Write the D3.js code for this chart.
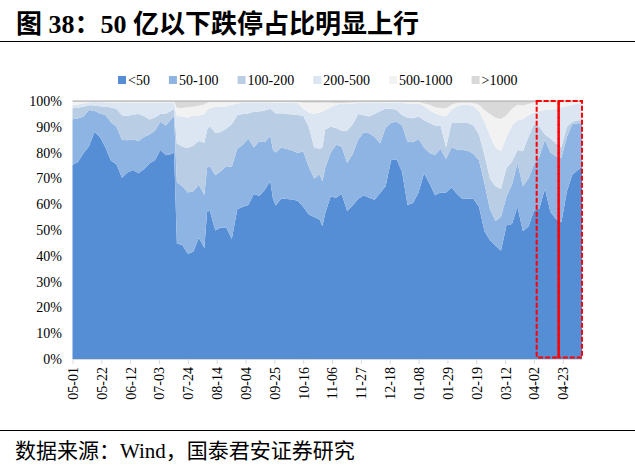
<!DOCTYPE html>
<html><head><meta charset="utf-8">
<script src="https://cdn.jsdelivr.net/npm/d3@7"></script>
<style>
html,body{margin:0;padding:0;background:#fff;}
svg{display:block;}
</style></head>
<body>
<svg id="chart" width="635" height="471"></svg>
<script>
// ---- data (share of limit-down stocks with market cap below each threshold, %) ----
const seriesNames = ["<50", "50-100", "100-200", "200-500", "500-1000", ">1000"];
const seriesColors = ["#558ed5", "#8eb4e3", "#b9cde5", "#dce6f2", "#f2f2f2", "#d9d9d9"];
const tickLabels = ["05-01","05-22","06-12","07-03","07-24","08-14","09-04","09-25","10-16","11-06","11-27","12-18","01-08","01-29","02-19","03-12","04-02","04-23"];
const yTickLabels = ["0%","10%","20%","30%","40%","50%","60%","70%","80%","90%","100%"];
const dates = ["2024-05-01","2024-05-05","2024-05-09","2024-05-13","2024-05-17","2024-05-21","2024-05-25","2024-05-29","2024-06-02","2024-06-06","2024-06-10","2024-06-14","2024-06-18","2024-06-22","2024-06-26","2024-06-30","2024-07-04","2024-07-08","2024-07-12","2024-07-14","2024-07-16","2024-07-20","2024-07-24","2024-07-28","2024-08-01","2024-08-05","2024-08-07","2024-08-09","2024-08-13","2024-08-17","2024-08-21","2024-08-25","2024-08-29","2024-09-02","2024-09-06","2024-09-10","2024-09-14","2024-09-18","2024-09-22","2024-09-24","2024-09-26","2024-09-30","2024-10-04","2024-10-08","2024-10-12","2024-10-16","2024-10-20","2024-10-24","2024-10-28","2024-10-30","2024-11-01","2024-11-05","2024-11-09","2024-11-13","2024-11-17","2024-11-21","2024-11-25","2024-11-29","2024-12-03","2024-12-07","2024-12-11","2024-12-15","2024-12-19","2024-12-23","2024-12-27","2024-12-31","2025-01-04","2025-01-08","2025-01-12","2025-01-16","2025-01-20","2025-01-24","2025-01-28","2025-02-01","2025-02-05","2025-02-09","2025-02-13","2025-02-17","2025-02-21","2025-02-25","2025-03-01","2025-03-05","2025-03-09","2025-03-13","2025-03-17","2025-03-21","2025-03-25","2025-03-29","2025-04-02","2025-04-06","2025-04-10","2025-04-14","2025-04-18","2025-04-22","2025-04-26","2025-04-30","2025-05-04","2025-05-07"];
const below50 = [75.2,76.4,79.7,82.5,88,86,82,76.8,75.5,70.3,72.3,73.3,72,73.5,75.8,77,81,79,79.5,80,44.8,44.2,40.8,41.6,47,43,57,57.5,49.8,51,51,46.5,58,59,59.7,64,63.2,65.5,69,62,59.5,62.2,62,61.8,61.3,59,56,55,54,51.5,56.5,63,62.5,64,57.3,59.5,62,63.5,62.5,61.7,64.3,67,77,77.4,72.5,59.7,60.5,64.5,72,68,63.5,64.5,64.5,66.5,64,62,62.2,62,59,49.5,46,44,42,51.8,52.3,59,49.5,51.4,57.5,58.3,66,57,54.3,53,65,71.5,73.3,74.6];
const below100 = [92.9,93.2,94,96.5,96.2,95.2,94.6,91.8,90,85,84.8,85.2,84.5,86,87,88.5,92,90.5,93,94,68.5,67,64.5,65,67.5,63.6,74,74.8,71.2,72.8,74.7,74.5,81.5,83,85.5,82,84.4,84,86.5,81,80,82,81.4,80.8,79.8,80.5,74.5,70,71.5,68.8,74,80,83,82.3,76,79.5,85,87.8,87.5,86,83.6,89.5,91.6,92,90.5,84.2,84,85.3,82,79.8,79.1,81.5,77.5,82,81.2,81,80.7,79.5,77,68,58,53.5,55,63,67.5,76,67,70,75.5,78.5,85,80,78.6,78,86,91.2,91.4,91.4];
const below200 = [97.2,97.4,97.8,98.4,98.3,98,97.8,97.5,97,94.5,94.2,94.8,95,94.2,92.8,93.6,95,95.2,96.2,97,83.5,82.3,81.8,82.8,84.5,83.8,89,90.2,87.6,88,89.3,91,94.5,95,95.2,95.8,95.9,96.3,97,96,95.2,95.3,95,94.8,94.6,94.3,90,82,81.5,82,89,90,89.5,88.5,88.5,91,95,94.5,94,95,96,97,97,96.5,94.5,93.5,93.3,94,92.5,91.5,90.5,90.5,82,91.5,91.5,91.5,91.5,90.5,87,79,70,67,66,74,76.5,81,80.5,86,91,90,87,85.5,83.5,82,90,92,92.5,92.5];
const below500 = [98.5,98.6,99,99.5,99.6,99.5,99.5,99.4,99.3,99.2,99.2,99.3,99.3,99.3,99.2,99.2,99.4,99.4,99.4,99.3,94.2,94,93.5,94.5,94.3,95,96.5,97.2,97.7,97.8,98,98.5,99,99.4,99.4,99.4,99.4,99.4,99.4,99.3,99.3,99.3,99.3,99.2,99.2,97,95.5,95,95.5,96,96.5,97.5,98.5,99,99,99,99.2,99.2,99.2,99.2,99.2,99.3,99.3,99.3,99.2,99,99,99,98,96.5,95.2,94.5,94,96.5,98,98.5,98.5,98,96,92,86.5,82,80.5,86,90.5,92.5,93,94.5,95.5,96,96.5,96.5,97,97.5,98,98.5,99,99];
const below1000 = [99.7,99.7,99.7,99.7,99.7,99.7,99.7,99.7,99.7,99.7,99.7,99.7,99.7,99.7,99.7,99.7,99.7,99.7,99.7,99.7,97.4,97.3,97.6,97.8,98.2,98.6,99.3,99.6,99.6,99.6,99.6,99.6,99.6,99.6,99.6,99.6,99.6,99.6,99.6,99.6,99.6,99.6,99.6,99.6,99.6,99.3,99.3,99.3,99.3,99.3,99.4,99.3,99.2,99.2,99.3,99.4,99.6,99.6,99.6,99.6,99.6,99.6,99.6,99.6,99.6,99.6,99.6,99.6,99,98.5,97.6,97.3,97.2,98.5,99.2,99.3,99.3,99.2,98.5,96.5,95,93.5,93,94.5,97,98.5,98.3,98.8,99.4,99.5,99.5,99.5,99.5,99.6,99.6,99.6,99.6,99.6];
const highlightDates = ["2025-04-04", "2025-04-20", "2025-05-07"];

// ---- build ----
const parse = d3.timeParse("%Y-%m-%d");
const svg = d3.select("#chart");
const serif = "'Liberation Serif','Times New Roman','Noto Sans CJK SC',serif";

const x = d3.scaleTime().domain([parse("2024-05-01"), parse("2025-05-07")]).range([72.5, 582]);
const y = d3.scaleLinear().domain([0, 100]).range([359, 101]);

const zeros = dates.map(() => 0);
const hundreds = dates.map(() => 100);
const bounds = [zeros, below50, below100, below200, below500, below1000, hundreds];
const rows = dates.map((d, i) => ({date: parse(d), v: bounds.map(b => b[i])}));

const plot = svg.append("g");
seriesNames.forEach((name, k) => {
  const area = d3.area()
    .x(d => x(d.date))
    .y0(d => y(d.v[k]))
    .y1(d => y(d.v[k + 1]));
  plot.append("path").datum(rows).attr("d", area).attr("fill", seriesColors[k]);
});
// top edge
plot.append("line").attr("x1", x.range()[0]).attr("x2", x.range()[1])
  .attr("y1", y(100)).attr("y2", y(100)).attr("stroke", "#a6a6a6").attr("stroke-width", 1);

// x axis
const tickDates = tickLabels.map((t, k) => d3.timeDay.offset(parse("2024-05-01"), 21 * k));
const xAxis = svg.append("g").attr("transform", `translate(0,${y(0)})`)
  .call(d3.axisBottom(x).tickValues(tickDates).tickFormat((d, i) => tickLabels[i]).tickSize(5).tickSizeOuter(0));
xAxis.select(".domain").attr("stroke", "#d9d9d9");
xAxis.selectAll(".tick line").attr("stroke", "#d9d9d9");
xAxis.selectAll(".tick text")
  .attr("font-family", serif).attr("font-size", 14).attr("fill", "#000")
  .attr("transform", "rotate(-90)").attr("x", -8).attr("y", 0).attr("dy", "0.35em")
  .style("text-anchor", "end");

// y axis
const yAxis = svg.append("g").attr("transform", `translate(${x.range()[0] - 0.5},0)`)
  .call(d3.axisLeft(y).tickValues(d3.range(0, 101, 10)).tickFormat((d, i) => yTickLabels[i]).tickSize(0).tickPadding(10));
yAxis.select(".domain").remove();
yAxis.selectAll(".tick text").attr("font-family", serif).attr("font-size", 14).attr("fill", "#000");

// highlight boxes
const hb = highlightDates.map(parse);
[[hb[0], hb[1]], [hb[1], hb[2]]].forEach(([a, b]) => {
  svg.append("rect")
    .attr("x", x(a)).attr("y", y(100)).attr("width", x(b) - x(a)).attr("height", y(0.6) - y(100))
    .attr("fill", "none").attr("stroke", "#ff0000").attr("stroke-width", 2)
    .attr("stroke-dasharray", "5,2");
});
svg.append("line").attr("x1", x(hb[1])).attr("x2", x(hb[1])).attr("y1", y(100)).attr("y2", y(0.6))
  .attr("stroke", "#ff0000").attr("stroke-width", 2);

// legend
const legend = svg.append("g").attr("transform", "translate(118,80)");
let lx = 0;
seriesNames.forEach((name, k) => {
  const g = legend.append("g").attr("transform", `translate(${lx},0)`);
  g.append("rect").attr("x", 0).attr("y", -4).attr("width", 8).attr("height", 8).attr("fill", seriesColors[k]);
  const t = g.append("text").attr("x", 10).attr("y", 0).attr("dy", "0.35em")
    .attr("font-family", serif).attr("font-size", 14).attr("fill", "#000").text(name);
  lx += 10 + t.node().getComputedTextLength() + 19;
});

// title
svg.append("text").attr("x", 16).attr("y", 33)
  .attr("font-family", serif).attr("font-size", 26).attr("font-weight", "bold").attr("fill", "#000")
  .text("图 38：50 亿以下跌停占比明显上行");
svg.append("line").attr("x1", 0).attr("x2", 635).attr("y1", 41.5).attr("y2", 41.5).attr("stroke", "#000").attr("stroke-width", 1.2);

// footer
svg.append("line").attr("x1", 0).attr("x2", 635).attr("y1", 430.5).attr("y2", 430.5).attr("stroke", "#000").attr("stroke-width", 1.2);
svg.append("text").attr("x", 15).attr("y", 458)
  .attr("font-family", serif).attr("font-size", 21).attr("fill", "#000")
  .text("数据来源：Wind，国泰君安证券研究");
</script>
</body></html>
